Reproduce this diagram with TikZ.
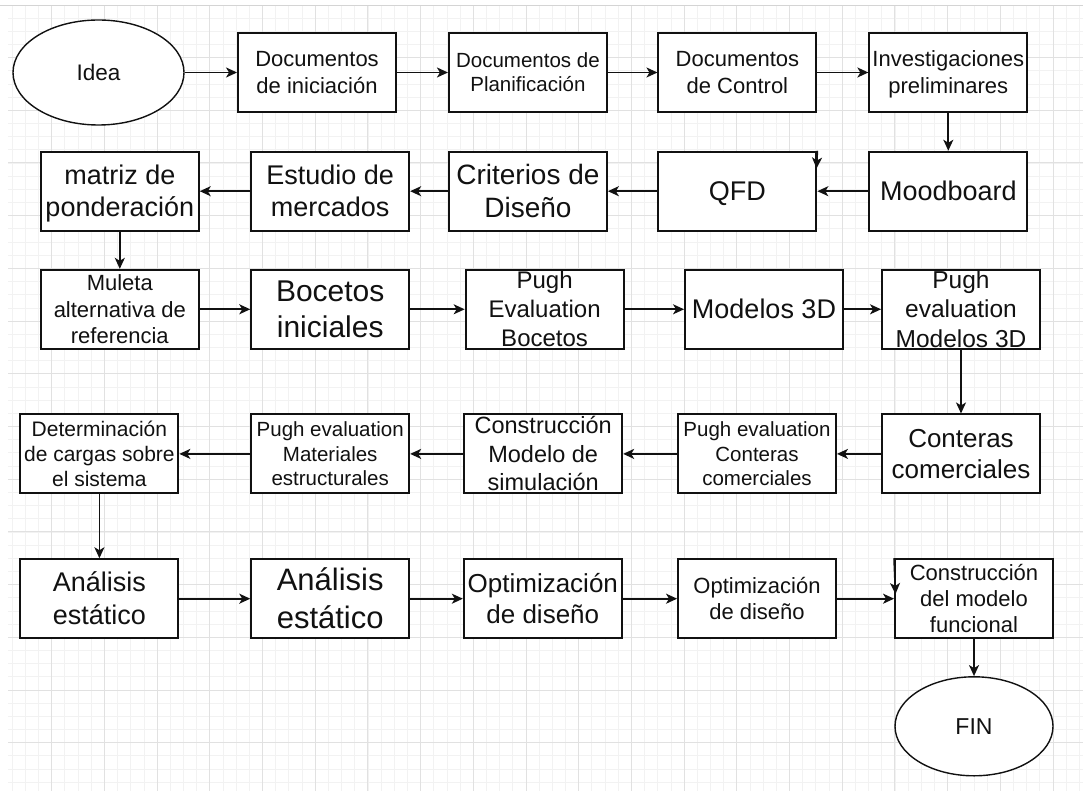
\documentclass[tikz,border=0pt]{standalone}
\usepackage{fontspec}
\setmainfont{Liberation Sans}
\usetikzlibrary{arrows.meta,shapes.geometric}
\definecolor{gridminor}{HTML}{F2F2F2}
\definecolor{gridmajor}{HTML}{E1E1E1}
\definecolor{edgeline}{HTML}{D4D4D4}
\definecolor{ink}{HTML}{111111}
% line strut: 1.2em line box, baseline 0.95em below its top
\newcommand\ls{\rule[-0.25em]{0pt}{1.2em}}
\newcommand\fs[2]{\fontsize{#1}{#2}\selectfont}
% flowbox{name}{x}{y}{font size}{baselineskip}{text}
\newcommand\flowbox[6]{%
  \node[box] (#1) at (#2,#3) {};
  \node[lbl, font=\fs{#4}{#5}] (#1-t) at (#1.center) {#6};}
\begin{document}
\begin{tikzpicture}[x=1pt, y=-1pt,
  box/.style={draw=ink, line width=1.9pt, fill=white, rectangle,
    minimum width=158pt, minimum height=79pt, inner sep=0pt},
  oval/.style={draw=ink, line width=1.4pt, fill=white, ellipse, inner sep=0pt},
  lbl/.style={align=center, inner sep=0pt, text=ink},
  arr/.style={draw=ink, line width=1.7pt,
    -{Stealth[length=11pt, width=10pt, inset=3pt]}},
  minorline/.style={draw=gridminor, line width=0.8pt},
  majorline/.style={draw=gridmajor, line width=1pt}]

% page and grid
\useasboundingbox (0,0) rectangle (1083,791);
\fill[white] (0,0) rectangle (1083,791);
\begin{scope}
  \clip (8,6) rectangle (1083,791);
  \foreach \i in {-3,...,79}
    \draw[minorline] ({51.7+13.175*\i},6) -- ({51.7+13.175*\i},791);
  \foreach \j in {-52,...,8}
    \draw[minorline] (8,{690+13.175*\j}) -- (1083,{690+13.175*\j});
  \foreach \k in {0,...,20}
    \draw[majorline] ({51.7+52.7*\k},6) -- ({51.7+52.7*\k},791);
  \foreach \m in {-12,...,2}
    \draw[majorline] (8,{690+52.7*\m}) -- (1083,{690+52.7*\m});
\end{scope}
\draw[edgeline, line width=1pt] (0,6) -- (1083,6);

% row 1
\node[oval, minimum width=171pt, minimum height=105pt, font=\fs{22.5}{27}, text=ink]
  (idea) at (98.5,72.5) {Idea};
\flowbox{doc1}{317}{72.5}{22}{26.4}{\ls Documentos\\\ls de iniciación}
\flowbox{doc2}{527.9}{72.5}{20.5}{24.6}{\ls Documentos de\\\ls Planificación}
\flowbox{doc3}{737.4}{72.5}{22}{26.4}{\ls Documentos\\\ls de Control}
\flowbox{inv}{948.3}{72.5}{22}{26.4}{\ls Investigaciones\\\ls preliminares}

% row 2
\flowbox{mat}{119.8}{191.2}{27}{32.4}{\ls matriz de\\\ls ponderación}
\flowbox{est}{330.2}{191.2}{27}{32.4}{\ls Estudio de\\\ls mercados}
\flowbox{cri}{527.9}{191.2}{28}{33.6}{\ls Criterios de\\\ls Diseño}
\flowbox{qfd}{737.4}{191.2}{27}{32.4}{\ls QFD}
\flowbox{moo}{948.3}{191.2}{27}{32.4}{\ls Moodboard}

% row 3
\flowbox{mul}{119.8}{309.3}{22}{26.4}{\ls Muleta\\\ls alternativa de\\\ls referencia}
\flowbox{boc}{330.2}{309.3}{30}{36}{\ls Bocetos\\\ls iniciales}
\flowbox{pb}{544.6}{309.3}{24}{28.8}{\ls Pugh\\\ls Evaluation\\\ls Bocetos}
\flowbox{m3d}{764}{309.3}{27}{32.4}{\ls Modelos 3D}
\flowbox{pm3d}{961}{309.3}{24.5}{29.4}{\ls Pugh\\\ls evaluation\\\ls Modelos 3D}

% row 4
\flowbox{det}{99.4}{453.9}{21}{25.2}{\ls Determinación\\\ls de cargas sobre\\\ls el sistema}
\flowbox{pmat}{330.2}{453.9}{20.5}{24.6}{\ls Pugh evaluation\\\ls Materiales\\\ls estructurales}
\flowbox{csim}{543.2}{453.9}{23.5}{28.2}{\ls Construcción\\\ls Modelo de\\\ls simulación}
\flowbox{pcon}{757}{453.9}{20.5}{24.6}{\ls Pugh evaluation\\\ls Conteras\\\ls comerciales}
\flowbox{con}{961}{453.9}{26}{31.2}{\ls Conteras\\\ls comerciales}

% row 5
\flowbox{an1}{99.4}{598.7}{27}{32.4}{\ls Análisis\\\ls estático}
\flowbox{an2}{330.2}{598.7}{31}{37.2}{\ls Análisis\\\ls estático}
\flowbox{opt1}{542.8}{598.7}{26}{31.2}{\ls Optimización\\\ls de diseño}
\flowbox{opt2}{757}{598.7}{22}{26.4}{\ls Optimización\\\ls de diseño}
\flowbox{cmf}{974}{598.7}{22}{26.4}{\ls Construcción\\\ls del modelo\\\ls funcional}

\node[oval, minimum width=158pt, minimum height=99pt, font=\fs{23}{27.6}, text=ink]
  (fin) at (974,726.3) {FIN};

% connectors
\draw[arr] (idea.east) -- (doc1.west);
\draw[arr] (doc1.east) -- (doc2.west);
\draw[arr] (doc2.east) -- (doc3.west);
\draw[arr] (doc3.east) -- (inv.west);
\draw[arr] (inv.south) -- (moo.north);
\draw[arr] (moo.west) -- (qfd.east);
\draw[arr] (qfd.west) -- (cri.east);
\draw[arr] (cri.west) -- (est.east);
\draw[arr] (est.west) -- (mat.east);
\draw[arr] (mat.south) -- (mul.north);
\draw[arr] (mul.east) -- (boc.west);
\draw[arr] (boc.east) -- (pb.west);
\draw[arr] (pb.east) -- (m3d.west);
\draw[arr] (m3d.east) -- (pm3d.west);
\draw[arr] (pm3d.south) -- (con.north);
\draw[arr] (con.west) -- (pcon.east);
\draw[arr] (pcon.west) -- (csim.east);
\draw[arr] (csim.west) -- (pmat.east);
\draw[arr] (pmat.west) -- (det.east);
\draw[arr] (det.south) -- (an1.north);
\draw[arr] (an1.east) -- (an2.west);
\draw[arr] (an2.east) -- (opt1.west);
\draw[arr] (opt1.east) -- (opt2.west);
\draw[arr] (opt2.east) -- (cmf.west);
\draw[arr] (cmf.south) -- (fin.north);

% short arrows running down box borders
\coordinate (qfd-tip) at (816.5,168.5);
\draw[arr] (qfd.north east) -- (qfd-tip);
\coordinate (cmf-tip) at (895.5,594);
\draw[arr] (cmf.north west) -- (cmf-tip);
\end{tikzpicture}
\end{document}
